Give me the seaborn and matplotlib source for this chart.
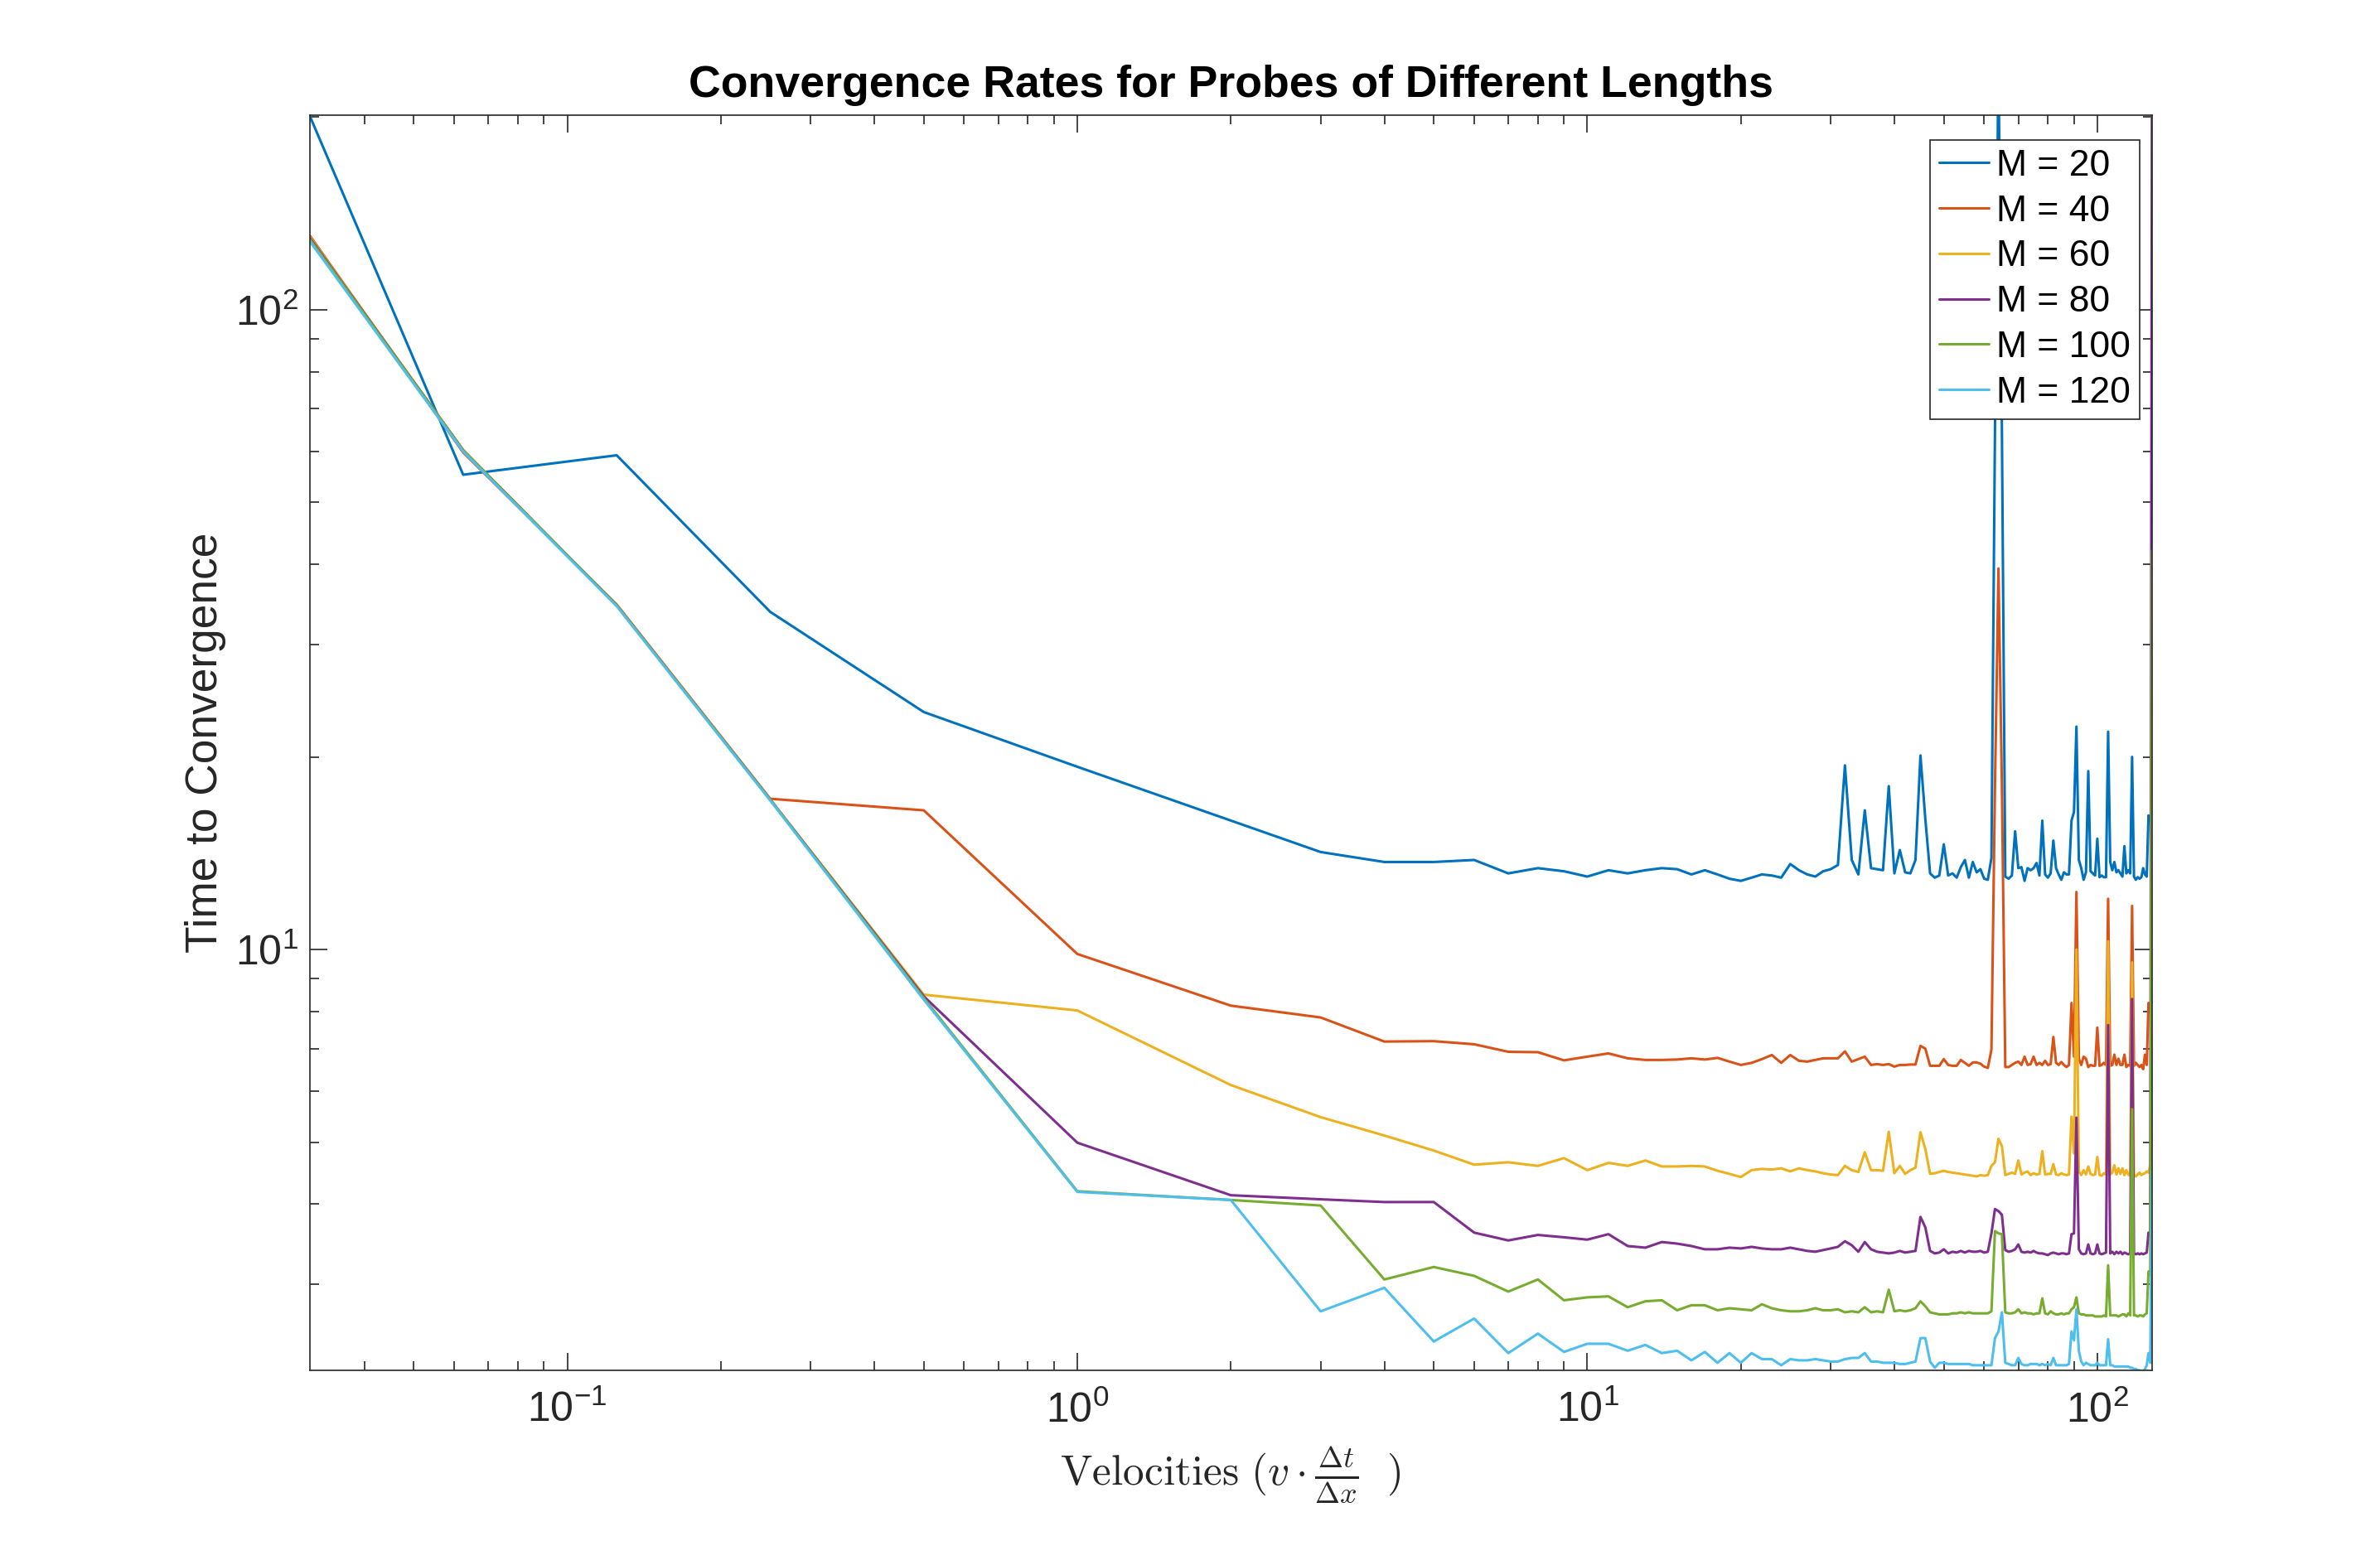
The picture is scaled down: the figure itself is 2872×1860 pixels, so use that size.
from __future__ import annotations

import matplotlib

matplotlib.use("Agg")
import matplotlib.pyplot as plt
import pandas as pd
import seaborn as sns

# velocity grid: 1/32 ... 1/2, then every integer up to 128
VELOCITIES = [1 / 32, 1 / 16, 1 / 8, 1 / 4, 1 / 2] + list(range(1, 129))

PROBE_LABELS = ["M = 20", "M = 40", "M = 60", "M = 80", "M = 100", "M = 120"]
COLORS = ["#0072BD", "#D95319", "#EDB120", "#7E2F8E", "#77AC30", "#4DBEEE"]

T_M20 = [201, 55.2, 59.2, 33.7, 23.5,
         19.3, 15.9, 14.2, 13.7, 13.7, 13.8, 13.15, 13.4, 13.25, 13.0,
         13.3, 13.15, 13.3, 13.4, 13.35, 13.1, 13.3, 13.1, 12.9, 12.8,
         12.95, 13.1, 13.05, 12.95, 13.6, 13.3, 13.1, 13.0, 13.25, 13.35,
         13.55, 19.4, 13.8, 13.1, 16.5, 13.4, 13.35, 13.3, 18.0, 13.15,
         14.3, 13.2, 13.15, 13.8, 20.1, 16.0, 13.15, 12.95, 13.05, 14.6,
         13.05, 13.15, 12.95, 13.45, 13.8, 12.95, 13.7, 13.2, 13.35, 12.9,
         12.85, 13.9, 65, 250, 65, 13.0, 12.9, 13.05, 15.3, 13.4,
         13.45, 12.8, 13.4, 13.3, 13.4, 13.65, 13.05, 15.9, 13.1, 12.95,
         13.15, 14.8, 13.4, 13.1, 12.85, 13.2, 13.1, 13.1, 15.9, 16.4,
         22.3, 13.8, 13.4, 12.85, 13.2, 19.0, 13.25, 13.15, 13.05, 14.9,
         12.97, 13.05, 12.97, 12.97, 21.9, 13.7, 13.3, 13.7, 13.2, 13.3,
         13.15, 13.0, 14.5, 13.15, 13.3, 13.15, 20.0, 13.0, 12.85, 12.97,
         12.9, 12.97, 13.4, 13.1, 13.0, 16.2, 15.9, 16.8]

T_M40 = [130.6, 59.8, 34.6, 17.2, 16.5,
         9.84, 8.17, 7.83, 7.18, 7.19, 7.11, 6.92, 6.91, 6.71, 6.80,
         6.88, 6.76, 6.72, 6.72, 6.73, 6.76, 6.73, 6.77, 6.68, 6.60,
         6.65, 6.74, 6.84, 6.65, 6.84, 6.70, 6.68, 6.72, 6.76, 6.76,
         6.76, 6.93, 6.68, 6.74, 6.80, 6.60, 6.62, 6.60, 6.62, 6.56,
         6.60, 6.60, 6.61, 6.61, 7.07, 7.00, 6.58, 6.58, 6.58, 6.74,
         6.60, 6.58, 6.58, 6.72, 6.65, 6.58, 6.66, 6.66, 6.63, 6.56,
         6.53, 6.97, 18.0, 39.4, 18.0, 6.55, 6.55, 6.60, 6.65, 6.68,
         6.60, 6.80, 6.60, 6.62, 6.80, 6.60, 6.65, 6.60, 6.70, 6.60,
         6.62, 7.30, 6.65, 6.60, 6.67, 6.60, 6.55, 6.60, 8.25, 6.80,
         12.3, 6.75, 6.60, 6.80, 6.75, 6.55, 6.60, 6.58, 6.58, 7.55,
         6.58, 6.60, 6.65, 6.60, 12.0, 6.58, 6.60, 6.85, 6.60, 6.75,
         6.60, 6.60, 6.85, 6.55, 6.60, 6.58, 11.7, 6.58, 6.65, 6.60,
         6.55, 6.60, 6.50, 6.85, 6.60, 8.25, 8.10, 8.20]

T_M60 = [130.0, 60.3, 34.5, 17.15, 8.5,
         8.03, 6.14, 5.47, 5.12, 4.85, 4.61, 4.65, 4.59, 4.72, 4.52,
         4.64, 4.59, 4.68, 4.58, 4.58, 4.59, 4.58, 4.51, 4.46, 4.41,
         4.52, 4.54, 4.53, 4.55, 4.50, 4.55, 4.52, 4.50, 4.47, 4.45,
         4.44, 4.59, 4.52, 4.49, 4.82, 4.52, 4.52, 4.51, 5.19, 4.47,
         4.59, 4.46, 4.52, 4.56, 5.18, 4.88, 4.46, 4.47, 4.49, 4.51,
         4.49, 4.48, 4.47, 4.46, 4.45, 4.44, 4.43, 4.42, 4.44, 4.43,
         4.44, 4.59, 4.65, 5.06, 4.93, 4.44, 4.46, 4.48, 4.46, 4.68,
         4.45, 4.48, 4.50, 4.44, 4.47, 4.45, 4.46, 4.84, 4.45, 4.46,
         4.46, 4.62, 4.45, 4.44, 4.47, 4.45, 4.44, 4.45, 5.48, 4.80,
         10.0, 4.50, 4.44, 4.52, 4.45, 4.58, 4.46, 4.44, 4.45, 4.74,
         4.44, 4.43, 4.47, 4.45, 10.3, 4.45, 4.48, 4.60, 4.45, 4.55,
         4.46, 4.55, 4.44, 4.52, 4.45, 4.43, 9.55, 4.45, 4.42, 4.45,
         4.48, 4.44, 4.46, 4.47, 4.50, 4.48, 4.60, 4.67]

T_M80 = [129.5, 60.3, 34.5, 17.15, 8.45,
         4.99, 4.13, 4.07, 4.03, 4.03, 3.61, 3.51, 3.58, 3.55, 3.52,
         3.59, 3.44, 3.42, 3.49, 3.47, 3.44, 3.40, 3.40, 3.42, 3.41,
         3.43, 3.41, 3.40, 3.40, 3.42, 3.40, 3.38, 3.37, 3.39, 3.41,
         3.43, 3.50, 3.45, 3.37, 3.49, 3.40, 3.37, 3.36, 3.35, 3.36,
         3.38, 3.36, 3.37, 3.38, 3.82, 3.68, 3.38, 3.35, 3.36, 3.40,
         3.35, 3.37, 3.36, 3.38, 3.36, 3.38, 3.37, 3.37, 3.38, 3.36,
         3.37, 3.60, 3.93, 3.90, 3.85, 3.39, 3.37, 3.38, 3.40, 3.46,
         3.37, 3.36, 3.37, 3.36, 3.38, 3.36, 3.35, 3.35, 3.34, 3.33,
         3.35, 3.36, 3.35, 3.34, 3.35, 3.35, 3.34, 3.35, 3.59, 3.60,
         5.46, 3.40, 3.35, 3.34, 3.35, 3.46, 3.35, 3.34, 3.35, 3.46,
         3.35, 3.34, 3.35, 3.36, 7.62, 3.35, 3.37, 3.34, 3.37, 3.35,
         3.37, 3.34, 3.36, 3.35, 3.34, 3.35, 8.37, 3.35, 3.34, 3.35,
         3.34, 3.35, 3.34, 3.35, 3.36, 3.61, 3.58, 250]

T_M100 = [129.0, 60.3, 34.5, 17.15, 8.4,
          4.19, 4.06, 3.98, 3.05, 3.19, 3.09, 2.92, 3.05, 2.83, 2.86,
          2.87, 2.76, 2.82, 2.83, 2.73, 2.78, 2.78, 2.73, 2.75, 2.74,
          2.73, 2.79, 2.75, 2.73, 2.72, 2.72, 2.73, 2.75, 2.73, 2.73,
          2.74, 2.71, 2.72, 2.71, 2.76, 2.71, 2.72, 2.71, 2.94, 2.72,
          2.73, 2.72, 2.73, 2.75, 2.82, 2.77, 2.71, 2.70, 2.69, 2.69,
          2.69, 2.70, 2.70, 2.71, 2.70, 2.71, 2.70, 2.70, 2.70, 2.70,
          2.70, 2.72, 3.63, 3.60, 3.59, 2.71, 2.70, 2.70, 2.71, 2.74,
          2.70, 2.71, 2.70, 2.70, 2.69, 2.70, 2.70, 2.85, 2.70, 2.69,
          2.72, 2.70, 2.69, 2.69, 2.70, 2.69, 2.70, 2.70, 2.74, 2.76,
          2.86, 2.70, 2.69, 2.69, 2.68, 2.68, 2.68, 2.68, 2.67, 2.67,
          2.67, 2.67, 2.68, 2.67, 3.21, 2.68, 2.68, 2.68, 2.68, 2.67,
          2.68, 2.69, 2.69, 2.67, 2.70, 2.68, 5.63, 2.68, 2.68, 2.67,
          2.68, 2.68, 2.67, 2.69, 2.70, 3.14, 3.10, 42.0]

T_M120 = [128.0, 60.0, 34.4, 17.1, 8.35,
          4.18, 4.06, 2.72, 2.96, 2.44, 2.65, 2.34, 2.51, 2.35, 2.42,
          2.42, 2.36, 2.41, 2.34, 2.36, 2.28, 2.35, 2.26, 2.34, 2.26,
          2.34, 2.29, 2.29, 2.24, 2.29, 2.28, 2.28, 2.29, 2.28, 2.27,
          2.27, 2.29, 2.30, 2.30, 2.34, 2.27, 2.27, 2.26, 2.26, 2.26,
          2.25, 2.25, 2.26, 2.27, 2.47, 2.47, 2.27, 2.22, 2.26, 2.26,
          2.25, 2.25, 2.25, 2.25, 2.25, 2.25, 2.24, 2.24, 2.24, 2.24,
          2.24, 2.24, 2.47, 2.53, 2.71, 2.26, 2.25, 2.24, 2.24, 2.30,
          2.25, 2.24, 2.24, 2.25, 2.25, 2.25, 2.24, 2.25, 2.24, 2.25,
          2.24, 2.30, 2.24, 2.24, 2.24, 2.24, 2.24, 2.25, 2.53, 2.45,
          2.74, 2.36, 2.27, 2.24, 2.26, 2.25, 2.24, 2.24, 2.24, 2.26,
          2.24, 2.24, 2.24, 2.24, 2.46, 2.24, 2.24, 2.23, 2.23, 2.23,
          2.23, 2.23, 2.23, 2.23, 2.23, 2.22, 2.22, 2.21, 2.21, 2.20,
          2.20, 2.19, 2.19, 2.21, 2.24, 2.34, 2.26, 4.5]

AXIS_GREY = "#262626"


def main() -> None:
    sns.set_style("ticks")
    plt.rcParams["font.family"] = ["Liberation Sans", "DejaVu Sans"]

    series = [T_M20, T_M40, T_M60, T_M80, T_M100, T_M120]
    frames = [
        pd.DataFrame({"velocity": VELOCITIES, "time": vals, "probe": label})
        for label, vals in zip(PROBE_LABELS, series)
    ]
    df = pd.concat(frames, ignore_index=True)

    fig = plt.figure(figsize=(14.36, 9.30), dpi=200)
    ax = fig.add_axes([0.1301, 0.1108, 0.7741, 0.8142])

    sns.lineplot(
        data=df, x="velocity", y="time", hue="probe", hue_order=PROBE_LABELS,
        palette=COLORS, estimator=None, sort=False, linewidth=1.1, ax=ax,
    )

    ax.set_xscale("log")
    ax.set_yscale("log")
    ax.set_xlim(1 / 32, 128)
    ax.set_ylim(2.2, 201)

    for side in ["top", "right", "bottom", "left"]:
        ax.spines[side].set_visible(True)
        ax.spines[side].set_color(AXIS_GREY)
        ax.spines[side].set_linewidth(0.6)
    ax.tick_params(which="both", direction="in", top=True, right=True,
                   color=AXIS_GREY, labelcolor=AXIS_GREY, width=0.6)
    ax.tick_params(which="major", length=7.5, labelsize=18)
    ax.tick_params(which="minor", length=4)
    ax.tick_params(axis="x", which="major", pad=9)
    ax.tick_params(axis="y", which="major", pad=5)

    ax.set_title("Convergence Rates for Probes of Different Lengths",
                 fontsize=19.3, fontweight="bold", pad=8, color="black")
    ax.set_ylabel("Time to Convergence", fontsize=19.2, color=AXIS_GREY, labelpad=4)
    ax.set_xlabel(r"$\mathrm{Velocities}\ (v \cdot \frac{\Delta t}{\Delta x}\ \ )$",
                  fontsize=18.5, color=AXIS_GREY, labelpad=6, math_fontfamily="cm")

    handles, labels = ax.get_legend_handles_labels()
    leg = ax.legend(
        handles, labels, loc="upper right", bbox_to_anchor=(0.9934, 0.9807),
        fontsize=16, frameon=True, fancybox=False, edgecolor=AXIS_GREY,
        framealpha=1, borderpad=0.25, labelspacing=0.31, handlelength=1.35,
        handletextpad=0.2, borderaxespad=0.0, labelcolor="black",
    )
    leg.get_frame().set_linewidth(0.6)

    fig.savefig("out.png", dpi=200)
    plt.close(fig)


if __name__ == "__main__":
    main()
